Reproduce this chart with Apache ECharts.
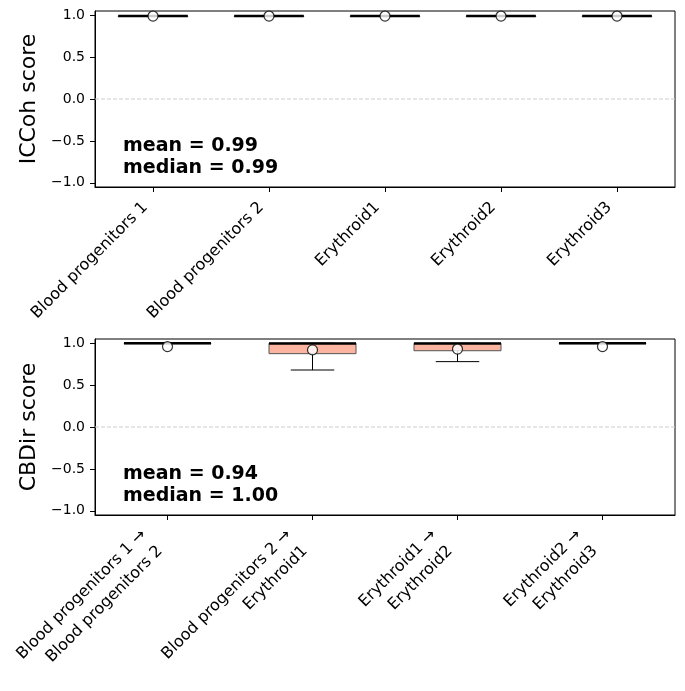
<!DOCTYPE html>
<html>
<head>
<meta charset="utf-8">
<script src="https://cdn.jsdelivr.net/npm/echarts@6/dist/echarts.min.js"></script>
<style>
  html, body { margin: 0; padding: 0; background: #fff; }
  #chart { width: 685px; height: 691px; }
</style>
</head>
<body>
<div id="chart"></div>
<script>
// top panel: per-cluster ICCoh
const topCats = ['Blood progenitors 1', 'Blood progenitors 2', 'Erythroid1', 'Erythroid2', 'Erythroid3'];
// [lower whisker, q1, median, q3, upper whisker]
const topStats = [
  [0.985, 0.985, 0.99, 0.99, 0.99],
  [0.985, 0.985, 0.99, 0.99, 0.99],
  [0.985, 0.985, 0.99, 0.99, 0.99],
  [0.985, 0.985, 0.99, 0.99, 0.99],
  [0.985, 0.985, 0.99, 0.99, 0.99],
];
const topMeans = [0.99, 0.99, 0.99, 0.99, 0.99];

// bottom panel: per-transition CBDir
const bottomCats = [
  'Blood progenitors 1 →\nBlood progenitors 2',
  'Blood progenitors 2 →\nErythroid1',
  'Erythroid1 →\nErythroid2',
  'Erythroid2 →\nErythroid3',
];
const bottomStats = [
  [1.0, 1.0, 1.0, 1.0, 1.0],
  [0.68, 0.875, 0.995, 1.0, 1.0],
  [0.78, 0.91, 0.995, 1.0, 1.0],
  [1.0, 1.0, 1.0, 1.0, 1.0],
];
const bottomMeans = [0.96, 0.92, 0.93, 0.96];

const yTicks = [-1.0, -0.5, 0.0, 0.5, 1.0];
const FONT = 'DejaVu Sans';
const BOX_FILL = '#fbb4a0';

function renderBox(params, api) {
  const x = api.value(0);
  const lo = api.coord([x, api.value(1)]);
  const q1 = api.coord([x, api.value(2)]);
  const med = api.coord([x, api.value(3)]);
  const q3 = api.coord([x, api.value(4)]);
  const hi = api.coord([x, api.value(5)]);
  const bw = api.size([1, 0])[0] * 0.6;
  const cw = bw / 2;
  const cx = med[0];
  const black = { stroke: '#000', lineWidth: 1 };
  const children = [];
  // dashed reference line at 0, drawn once per panel
  if (params.dataIndex === 0) {
    const cs = params.coordSys;
    const y0 = api.coord([x, 0])[1];
    children.push({
      type: 'line',
      shape: { x1: cs.x, y1: y0, x2: cs.x + cs.width, y2: y0 },
      style: { stroke: '#cccccc', lineWidth: 1, lineDash: [4, 2] },
    });
  }
  children.push(
    { type: 'line', shape: { x1: cx, y1: lo[1], x2: cx, y2: q1[1] }, style: black },
    { type: 'line', shape: { x1: cx, y1: q3[1], x2: cx, y2: hi[1] }, style: black },
    { type: 'line', shape: { x1: cx - cw / 2, y1: lo[1], x2: cx + cw / 2, y2: lo[1] }, style: black },
    { type: 'line', shape: { x1: cx - cw / 2, y1: hi[1], x2: cx + cw / 2, y2: hi[1] }, style: black },
    {
      type: 'rect',
      shape: { x: cx - bw / 2, y: q3[1], width: bw, height: Math.max(q1[1] - q3[1], 0.5) },
      style: { fill: BOX_FILL, stroke: '#555', lineWidth: 1 },
    },
    { type: 'line', shape: { x1: cx - bw / 2, y1: med[1], x2: cx + bw / 2, y2: med[1] }, style: { stroke: '#000', lineWidth: 2.5 } }
  );
  return { type: 'group', children };
}

function yAxisFor(gridIndex, name) {
  return {
    type: 'value',
    gridIndex,
    min: -1.05,
    max: 1.05,
    name,
    nameLocation: 'middle',
    nameGap: 45,
    nameTextStyle: { fontSize: 22, color: '#000', fontFamily: FONT },
    axisLine: { show: true, onZero: false, lineStyle: { color: '#000', width: 1 } },
    axisTick: { show: true, length: 5, customValues: yTicks, lineStyle: { color: '#000' } },
    axisLabel: {
      customValues: yTicks,
      fontSize: 14,
      color: '#000',
      fontFamily: FONT,
      margin: 10,
      formatter: (v) => v.toFixed(1).replace('-', '\u2212'),
    },
    splitLine: { show: false },
  };
}

function xAxisFor(gridIndex, cats, pad, lh) {
  return {
    type: 'category',
    gridIndex,
    data: cats,
    axisLine: { show: true, onZero: false, lineStyle: { color: '#000', width: 1 } },
    axisTick: { show: true, alignWithLabel: true, length: 5, lineStyle: { color: '#000' } },
    axisLabel: {
      interval: 0,
      rotate: 45,
      fontSize: 16,
      lineHeight: lh,
      color: '#000',
      fontFamily: FONT,
      margin: 10,
      padding: [0, pad, 0, 0],
    },
    splitLine: { show: false },
  };
}

const option = {
  animation: false,
  backgroundColor: '#fff',
  textStyle: { fontFamily: FONT },
  grid: [
    { left: 95, top: 11, width: 580, height: 176, show: true, borderColor: '#000', borderWidth: 1 },
    { left: 95, top: 339, width: 580, height: 176, show: true, borderColor: '#000', borderWidth: 1 },
  ],
  xAxis: [xAxisFor(0, topCats, 11, 19), xAxisFor(1, bottomCats, 22, 23)],
  yAxis: [yAxisFor(0, 'ICCoh score'), yAxisFor(1, 'CBDir score')],
  series: [
    {
      type: 'custom',
      xAxisIndex: 0,
      yAxisIndex: 0,
      renderItem: renderBox,
      encode: { x: 0, y: [1, 2, 3, 4, 5] },
      data: topStats.map((s, i) => [i, ...s]),
      z: 3,
    },
    {
      type: 'scatter',
      xAxisIndex: 0,
      yAxisIndex: 0,
      symbol: 'circle',
      symbolSize: 10,
      itemStyle: { color: '#fff', borderColor: '#000', borderWidth: 1.2 },
      data: topMeans.map((m, i) => [i, m]),
      z: 5,
    },
    {
      type: 'custom',
      xAxisIndex: 1,
      yAxisIndex: 1,
      renderItem: renderBox,
      encode: { x: 0, y: [1, 2, 3, 4, 5] },
      data: bottomStats.map((s, i) => [i, ...s]),
      z: 3,
    },
    {
      type: 'scatter',
      xAxisIndex: 1,
      yAxisIndex: 1,
      symbol: 'circle',
      symbolSize: 10,
      itemStyle: { color: '#fff', borderColor: '#000', borderWidth: 1.2 },
      data: bottomMeans.map((m, i) => [i, m]),
      z: 5,
    },
  ],
  graphic: [
    { type: 'text', left: 123, top: 135, style: { text: 'mean = 0.99\nmedian = 0.99', font: 'bold 19px "DejaVu Sans"', fill: '#000', lineHeight: 22 } },
    { type: 'text', left: 123, top: 463, style: { text: 'mean = 0.94\nmedian = 1.00', font: 'bold 19px "DejaVu Sans"', fill: '#000', lineHeight: 22 } },
  ],
};

const myChart = echarts.init(document.getElementById('chart'), null, { renderer: 'canvas' });
myChart.setOption(option);
</script>
</body>
</html>
